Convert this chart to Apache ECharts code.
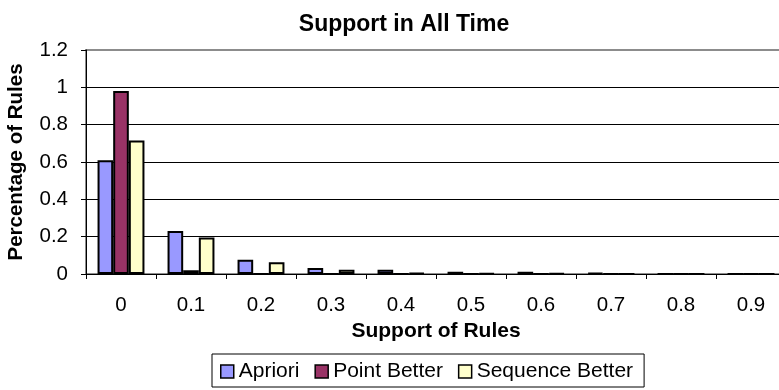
<!DOCTYPE html>
<html>
<head>
<meta charset="utf-8">
<script src="https://cdn.jsdelivr.net/npm/echarts@6/dist/echarts.min.js"></script>
<style>
  html, body { margin: 0; padding: 0; background: #fff; }
  #chart { width: 779px; height: 390px; }
</style>
</head>
<body>
<div id="chart"></div>
<script>
// Support bins on the x axis
const categories = ['0', '0.1', '0.2', '0.3', '0.4', '0.5', '0.6', '0.7', '0.8', '0.9'];

// Share of rules falling in each support bin
const apriori        = [0.61, 0.23, 0.077, 0.032, 0.023, 0.012, 0.012, 0.006, 0, 0];
const pointBetter    = [0.98, 0.02, 0, 0, 0, 0, 0, 0, 0, 0];
const sequenceBetter = [0.715, 0.195, 0.063, 0.023, 0.005, 0.004, 0.004, 0, 0, 0];

const seriesNames = ['Apriori', 'Point Better', 'Sequence Better'];
const seriesColors = ['#9999FF', '#993366', '#FFFFCC'];
const seriesValues = [apriori, pointBetter, sequenceBetter];

const FONT = '"Liberation Sans", Arial, sans-serif';

const chart = echarts.init(document.getElementById('chart'), null, { renderer: 'canvas' });

chart.setOption({
  animation: false,
  backgroundColor: '#ffffff',
  title: {
    text: 'Support in All Time',
    left: 404,
    top: 13,
    padding: 0,
    textAlign: 'center',
    textStyle: { fontFamily: FONT, fontSize: 23, fontWeight: 'bold', color: '#000' }
  },
  legend: {
    data: seriesNames,
    left: 212,
    top: 354,
    padding: [7, 11, 5, 8],
    itemGap: 15,
    itemWidth: 13,
    itemHeight: 13,
    borderColor: '#000',
    borderWidth: 1,
    icon: 'rect',
    itemStyle: { borderColor: '#000', borderWidth: 1.5 },
    textStyle: { fontFamily: FONT, fontSize: 21, color: '#000' }
  },
  grid: {
    left: 86, right: -7, top: 50, bottom: 116,
    containLabel: false, outerBoundsMode: 'none',
    show: true, borderColor: '#8c8c8c', borderWidth: 2, backgroundColor: 'transparent'
  },
  xAxis: {
    type: 'category',
    data: categories,
    name: 'Support of Rules',
    nameLocation: 'middle',
    nameGap: 45,
    nameTextStyle: { fontFamily: FONT, fontSize: 21, fontWeight: 'bold', color: '#000' },
    axisLine: { lineStyle: { color: '#000', width: 1 } },
    axisTick: { show: true, alignWithLabel: false, length: 5, lineStyle: { color: '#000' } },
    axisLabel: { fontFamily: FONT, fontSize: 20.5, color: '#000', margin: 21 }
  },
  yAxis: {
    type: 'value',
    min: 0,
    max: 1.2,
    interval: 0.2,
    name: 'Percentage of Rules',
    nameLocation: 'middle',
    nameGap: 59,
    nameTextStyle: { fontFamily: FONT, fontSize: 20.5, fontWeight: 'bold', color: '#000' },
    axisLine: { show: true, lineStyle: { color: '#000', width: 1 } },
    axisTick: { show: true, inside: false, length: 5, lineStyle: { color: '#000' } },
    axisLabel: {
      fontFamily: FONT, fontSize: 20.5, color: '#000', margin: 18,
      formatter: v => String(Math.round(v * 10) / 10)
    },
    splitLine: {
      show: true,
      lineStyle: { color: ['#000', '#000', '#000', '#000', '#000', '#000', '#8c8c8c'], width: 1 }
    }
  },
  series: seriesValues.map((vals, i) => ({
    name: seriesNames[i],
    type: 'bar',
    data: vals,
    barGap: '0%',
    barCategoryGap: '33%',
    itemStyle: { color: seriesColors[i], borderColor: '#000', borderWidth: 2 }
  }))
});
</script>
</body>
</html>
